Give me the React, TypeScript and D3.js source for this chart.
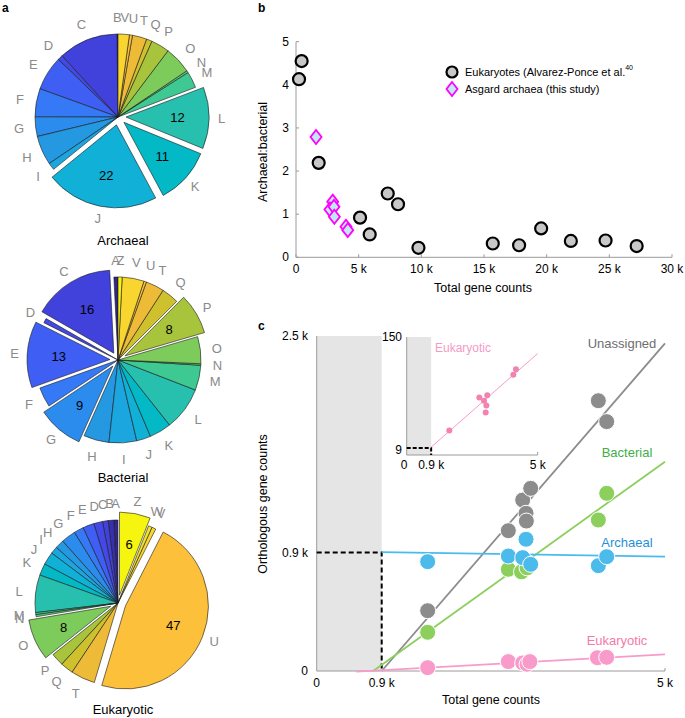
import * as d3 from "d3";

// ---- panel a: pie data (percent of orthologous genes per COG category)
const archLetters = ["B", "C", "D", "E", "F", "G", "H", "I", "J", "K", "L", "M", "N", "O", "P", "Q", "T", "U", "V"];
const archValues = [0.2, 11.6, 1, 6.7, 5.5, 3.8, 5.7, 1.4, 22, 11, 12, 3.2, 0.4, 5.3, 3.6, 1.1, 2.8, 0.6, 2.2];
const archExploded = ["J", "K", "L"];

const bactLetters = ["A", "C", "D", "E", "F", "G", "H", "I", "J", "K", "L", "M", "N", "O", "P", "Q", "T", "U", "V", "Z"];
const bactValues = [0.8, 16, 0.9, 13, 3.9, 9, 5, 5.4, 2.8, 4.3, 8.5, 4.9, 0.3, 5.3, 8, 3.4, 3.6, 0.5, 4.3, 0.8];
const bactExploded = ["C", "E", "G", "P"];

const eukLetters = ["A", "B", "C", "D", "E", "F", "G", "H", "I", "J", "K", "L", "M", "N", "O", "P", "Q", "T", "U", "V", "W", "Z"];
const eukValues = [0.8, 1.1, 1.1, 1.7, 2.2, 1.9, 2.8, 1.7, 1.4, 2.5, 2.3, 7.3, 0.4, 0.4, 8, 2.5, 2.5, 4.7, 47, 0.8, 0.7, 6];
const eukExploded = ["Z", "U", "O"];

// ---- panel b: archaeal:bacterial ratio vs total gene counts
const eukGenes = [450, 240, 1810, 7320, 8140, 5110, 5880, 9770, 15700, 17800, 19560, 21930, 24700, 27180];
const eukRatio = [4.55, 4.13, 2.19, 1.48, 1.23, 0.92, 0.53, 0.22, 0.32, 0.28, 0.67, 0.38, 0.39, 0.26];
const asgGenes = [1600, 2930, 2710, 3030, 3060, 3990, 4130];
const asgRatio = [2.79, 1.29, 1.11, 1.17, 0.94, 0.71, 0.63];
const bTicksX = [0, 5000, 10000, 15000, 20000, 25000, 30000];
const bTicksY = [0, 1, 2, 3, 4, 5];

// ---- panel c: orthologous gene counts vs total gene counts
const xThreshold = 933;
const yThreshold = 884;
const unaGenes = [1593, 2751, 2957, 3072, 3005, 3010, 4043, 4163];
const unaCounts = [450, 1047, 1276, 1363, 1177, 1119, 2017, 1861];
const bacGenes = [1593, 2751, 2940, 3020, 4043, 4163];
const bacCounts = [289, 759, 740, 770, 1127, 1326];
const arcGenes = [1593, 2751, 3005, 2957, 3072, 4043, 4163];
const arcCounts = [816, 858, 983, 846, 796, 786, 853];
const eukcGenes = [1593, 2751, 2957, 3020, 3060, 4030, 4163];
const eukcCounts = [25, 70, 60, 50, 70, 99, 102];
const fitUna = [[933, 0], [5000, 2445]];
const fitBac = [[810, 0], [5000, 1562]];
const fitArc = [[933, 887], [5000, 854]];
const fitEuk = [[570, -5], [5000, 124]];
// inset: eukaryotic orthologs
const insGenes = [1626, 2771, 3076, 2950, 3040, 3015, 4070, 4170];
const insCounts = [31, 73, 76, 69, 63, 54, 102, 109];
const insFit = [[900, 9], [5000, 129]];

const cogColors: Record<string, string> = {
  A: "#33278f", B: "#382fae", C: "#4141dc", D: "#4449e6", E: "#3f5ef3", F: "#3679f6",
  G: "#2b8cee", H: "#2598e2", I: "#1ba6df", J: "#11b0d6", K: "#03b9c6", L: "#27bfad",
  M: "#3ec892", N: "#5acb78", O: "#7ccb5b", P: "#a7c43c", Q: "#cfc02e", T: "#edbb37",
  U: "#fcc03a", V: "#f8d52f", W: "#f3e428", Z: "#f6f510",
};

const FONT = "'Liberation Sans', Arial, Helvetica, sans-serif";
const R = 83;
const OFF = 8;

interface PieProps {
  cx: number;
  cy: number;
  letters: string[];
  values: number[];
  exploded: string[];
  title: string;
  titleY: number;
}

const Pie = ({ cx, cy, letters, values, exploded, title, titleY }: PieProps) => {
  const arcs = d3.pie<number>().sort(null).startAngle(0).endAngle(-2 * Math.PI)(values);
  const arc = d3.arc<d3.PieArcDatum<number>>().innerRadius(0).outerRadius(R);
  return (
    <g>
      {arcs.map((a, i) => {
        const L = letters[i];
        const mid = (a.startAngle + a.endAngle) / 2;
        const ux = Math.sin(mid);
        const uy = -Math.cos(mid);
        const ex = exploded.includes(L);
        const ox = ex ? ux * OFF : 0;
        const oy = ex ? uy * OFF : 0;
        const lr = R * 1.2 + (ex ? OFF * 0.5 : 0);
        return (
          <g key={L}>
            <path
              d={arc(a) ?? ""}
              transform={`translate(${cx + ox},${cy + oy})`}
              fill={cogColors[L]}
              stroke="#1a1a1a"
              strokeWidth={0.6}
            />
            <text
              x={cx + ux * lr}
              y={cy + uy * lr}
              textAnchor="middle"
              dominantBaseline="central"
              fontSize={13}
              fill="#8a8a8a"
            >
              {L}
            </text>
            {ex && (
              <text
                x={cx + ox + ux * R * 0.62}
                y={cy + oy + uy * R * 0.62}
                textAnchor="middle"
                dominantBaseline="central"
                fontSize={13}
                fill="#000"
              >
                {Math.round(values[i])}
              </text>
            )}
          </g>
        );
      })}
      <text x={123} y={titleY} textAnchor="middle" dominantBaseline="central" fontSize={13}>
        {title}
      </text>
    </g>
  );
};

const diamond = (x: number, y: number) => `M${x},${y - 7}L${x + 5.5},${y}L${x},${y + 7}L${x - 5.5},${y}Z`;

export default function App() {
  // panel b scales
  const xB = d3.scaleLinear().domain([0, 30000]).range([296, 672]);
  const yB = d3.scaleLinear().domain([0, 5]).range([257.3, 41.7]);
  // panel c scales
  const xC = d3.scaleLinear().domain([0, 5000]).range([316.7, 665]);
  const yC = d3.scaleLinear().domain([0, 2500]).range([671, 336]);
  // inset scales
  const xI = d3.scaleLinear().domain([0, 5000]).range([406.7, 537.7]);
  const yI = d3.scaleLinear().domain([0, 150]).range([455, 337]);

  const lineC = d3.line<number[]>().x((d) => xC(d[0])).y((d) => yC(d[1]));
  const lineI = d3.line<number[]>().x((d) => xI(d[0])).y((d) => yI(d[1]));
  const axisCol = "#9a9a9a";

  const series = [
    { genes: bacGenes, counts: bacCounts, color: "#8ccf5d" },
    { genes: unaGenes, counts: unaCounts, color: "#8c8c8c" },
    { genes: arcGenes, counts: arcCounts, color: "#4bbbec" },
    { genes: eukcGenes, counts: eukcCounts, color: "#f99bca" },
  ];

  return (
    <svg
      width={685}
      height={718}
      viewBox="0 0 685 718"
      style={{ position: "absolute", left: 0, top: 0, background: "#fff" }}
      fontFamily={FONT}
    >
      <rect width={685} height={718} fill="#fff" />
      {/* panel labels */}
      <text x={2} y={12} fontSize={12} fontWeight="bold">a</text>
      <text x={258} y={12} fontSize={12} fontWeight="bold">b</text>
      <text x={258} y={330} fontSize={12} fontWeight="bold">c</text>

      {/* ---- a: pies */}
      <Pie cx={118} cy={117} letters={archLetters} values={archValues} exploded={archExploded} title="Archaeal" titleY={240} />
      <Pie cx={118} cy={360} letters={bactLetters} values={bactValues} exploded={bactExploded} title="Bacterial" titleY={477} />
      <Pie cx={118} cy={603} letters={eukLetters} values={eukValues} exploded={eukExploded} title="Eukaryotic" titleY={709} />

      {/* ---- b: scatter */}
      <g fontSize={12}>
        <line x1={296} x2={296} y1={yB(5)} y2={yB(0)} stroke={axisCol} />
        <line x1={296} x2={xB(30000)} y1={yB(0)} y2={yB(0)} stroke={axisCol} />
        {bTicksX.map((t) => (
          <g key={t}>
            <line x1={xB(t)} x2={xB(t)} y1={yB(0)} y2={yB(0) - 3} stroke={axisCol} />
            <text x={xB(t)} y={269} textAnchor="middle" dominantBaseline="central">
              {t === 0 ? "0" : `${t / 1000} k`}
            </text>
          </g>
        ))}
        {bTicksY.map((t) => (
          <g key={t}>
            <line x1={296} x2={299} y1={yB(t)} y2={yB(t)} stroke={axisCol} />
            <text x={289} y={yB(t)} textAnchor="end" dominantBaseline="central">
              {t}
            </text>
          </g>
        ))}
        <text x={483} y={288} textAnchor="middle" dominantBaseline="central" fontSize={12.5}>
          Total gene counts
        </text>
        <text
          transform={`translate(263,152) rotate(-90)`}
          textAnchor="middle"
          dominantBaseline="central"
          fontSize={12.5}
        >
          Archaeal:bacterial
        </text>
        {eukGenes.map((g, i) => (
          <circle key={`e${i}`} cx={xB(g)} cy={yB(eukRatio[i])} r={6} fill="#c8c8c8" stroke="#000" strokeWidth={2.2} />
        ))}
        {asgGenes.map((g, i) => (
          <path key={`a${i}`} d={diamond(xB(g), yB(asgRatio[i]))} fill="#bfe9f7" stroke="#ff00ff" strokeWidth={1.8} />
        ))}
        {/* legend */}
        <circle cx={452} cy={72} r={5.5} fill="#c8c8c8" stroke="#000" strokeWidth={2.2} />
        <text x={465} y={72} fontSize={11} dominantBaseline="central">
          Eukaryotes (Alvarez-Ponce et al.
          <tspan fontSize={7} dy={-5}>40</tspan>
        </text>
        <path d={diamond(452, 89)} fill="#bfe9f7" stroke="#ff00ff" strokeWidth={1.8} />
        <text x={465} y={89} fontSize={11} dominantBaseline="central">
          Asgard archaea (this study)
        </text>
      </g>

      {/* ---- c: orthologous gene counts */}
      <g fontSize={12}>
        <rect x={xC(0)} y={yC(2500)} width={xC(xThreshold) - xC(0)} height={yC(0) - yC(2500)} fill="#e5e5e5" />
        <line x1={xC(0)} x2={xC(0)} y1={yC(2500)} y2={yC(0)} stroke={axisCol} />
        <line x1={xC(0)} x2={xC(5000)} y1={yC(0)} y2={yC(0)} stroke={axisCol} />
        <line x1={xC(5000)} x2={xC(5000)} y1={yC(0)} y2={yC(0) - 3} stroke={axisCol} />
        <path
          d={`M${xC(0)},${yC(yThreshold)}H${xC(xThreshold)}V${yC(0)}`}
          fill="none"
          stroke="#000"
          strokeWidth={2}
          strokeDasharray="5,3"
        />
        <text x={308} y={yC(2500)} textAnchor="end" dominantBaseline="central">2.5 k</text>
        <text x={308} y={yC(yThreshold)} textAnchor="end" dominantBaseline="central">0.9 k</text>
        <text x={308} y={yC(0)} textAnchor="end" dominantBaseline="central">0</text>
        <text x={xC(0)} y={683} textAnchor="middle" dominantBaseline="central">0</text>
        <text x={xC(xThreshold)} y={683} textAnchor="middle" dominantBaseline="central">0.9 k</text>
        <text x={xC(5000)} y={683} textAnchor="middle" dominantBaseline="central">5 k</text>
        <text x={491} y={700} textAnchor="middle" dominantBaseline="central" fontSize={12.5}>
          Total gene counts
        </text>
        <text
          transform={`translate(263,504) rotate(-90)`}
          textAnchor="middle"
          dominantBaseline="central"
          fontSize={12.5}
        >
          Orthologous gene counts
        </text>

        <path d={lineC(fitUna) ?? ""} stroke="#8c8c8c" strokeWidth={1.8} fill="none" />
        <path d={lineC(fitBac) ?? ""} stroke="#8ccf5d" strokeWidth={1.8} fill="none" />
        <path d={lineC(fitArc) ?? ""} stroke="#4bbbec" strokeWidth={1.8} fill="none" />
        <path d={lineC(fitEuk) ?? ""} stroke="#f99bca" strokeWidth={1.8} fill="none" />

        {series.map((s, k) =>
          s.genes.map((g, i) => (
            <circle key={`${k}-${i}`} cx={xC(g)} cy={yC(s.counts[i])} r={8} fill={s.color} stroke="#fff" strokeWidth={1} />
          ))
        )}

        <text x={622} y={343} textAnchor="middle" dominantBaseline="central" fontSize={13} fill="#6e6e6e">Unassigned</text>
        <text x={627} y={452} textAnchor="middle" dominantBaseline="central" fontSize={13} fill="#3fae49">Bacterial</text>
        <text x={627} y={542} textAnchor="middle" dominantBaseline="central" fontSize={13} fill="#1f8fd6">Archaeal</text>
        <text x={617} y={640} textAnchor="middle" dominantBaseline="central" fontSize={13} fill="#f47aa8">Eukaryotic</text>

        {/* inset */}
        <rect x={xI(0)} y={yI(150)} width={xI(xThreshold) - xI(0)} height={yI(0) - yI(150)} fill="#e5e5e5" />
        <line x1={xI(0)} x2={xI(0)} y1={yI(150)} y2={yI(0)} stroke={axisCol} />
        <line x1={xI(0)} x2={xI(5000)} y1={yI(0)} y2={yI(0)} stroke={axisCol} />
        <line x1={xI(5000)} x2={xI(5000)} y1={yI(0)} y2={yI(0) - 3} stroke={axisCol} />
        <path
          d={`M${xI(0)},${yI(9)}H${xI(xThreshold)}V${yI(0)}`}
          fill="none"
          stroke="#000"
          strokeWidth={2}
          strokeDasharray="4,2"
        />
        <text x={402} y={yI(150)} textAnchor="end" dominantBaseline="central">150</text>
        <text x={402} y={yI(9) + 2} textAnchor="end" dominantBaseline="central">9</text>
        <text x={404} y={465} textAnchor="middle" dominantBaseline="central">0</text>
        <text x={xI(xThreshold)} y={465} textAnchor="middle" dominantBaseline="central">0.9 k</text>
        <text x={xI(5000)} y={465} textAnchor="middle" dominantBaseline="central">5 k</text>
        <text x={463} y={348} textAnchor="middle" dominantBaseline="central" fontSize={12} fill="#f59ac5">Eukaryotic</text>
        <path d={lineI(insFit) ?? ""} stroke="#f99bca" strokeWidth={1} fill="none" />
        {insGenes.map((g, i) => (
          <circle key={`i${i}`} cx={xI(g)} cy={yI(insCounts[i])} r={3} fill="#f283b0" />
        ))}
      </g>
    </svg>
  );
}
